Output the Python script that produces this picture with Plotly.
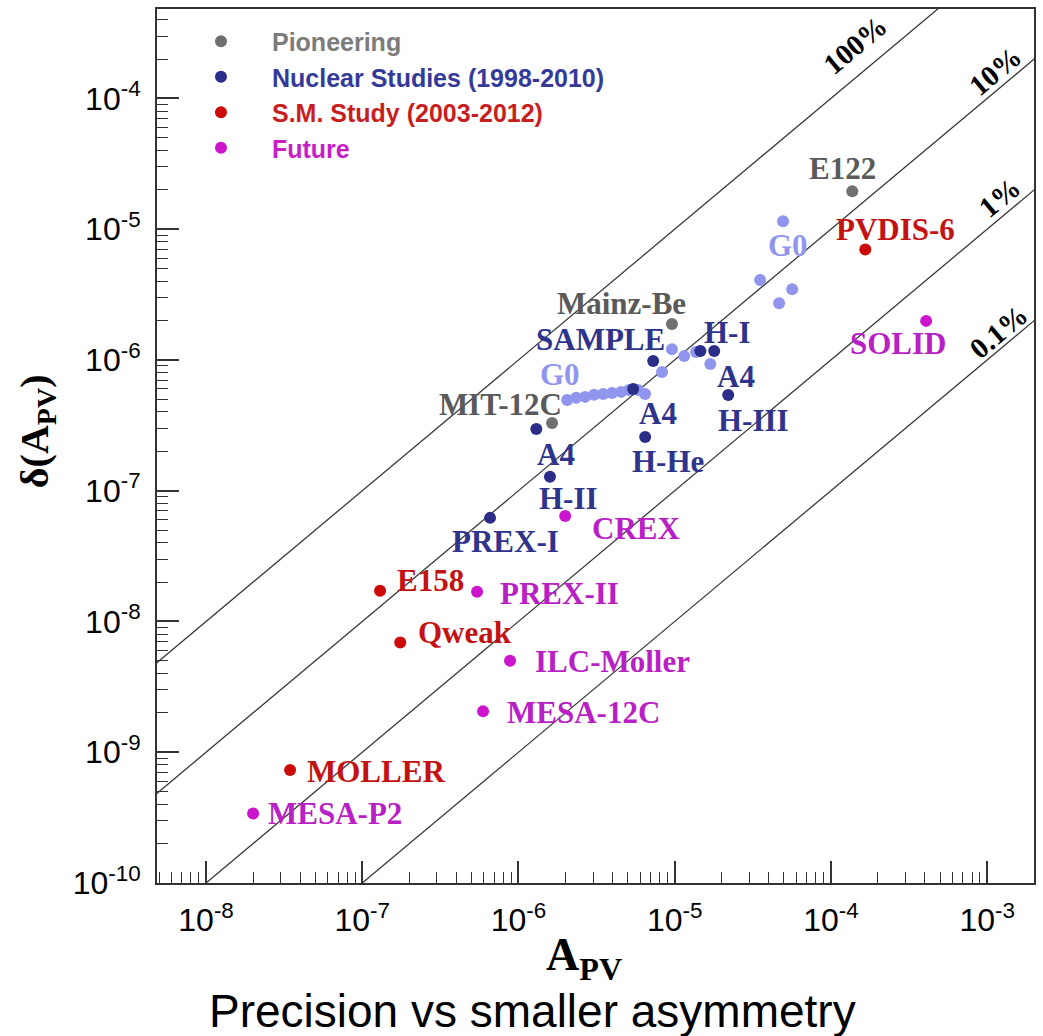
import numpy as np
import plotly.graph_objects as go

# ---- data: parity-violating asymmetry A_PV and its absolute uncertainty ----
# Pioneering measurements
pio_names = ["E122", "Mainz-Be", "MIT-12C"]
pio_apv = [1.37e-4, 9.6e-6, 1.64e-6]
pio_dapv = [1.95e-5, 1.88e-6, 3.3e-7]

# Nuclear studies (1998-2010)
nuc_names = ["SAMPLE", "H-I", "H-I", "", "A4 / H-II", "A4 / H-He", "A4 / H-III", "PREX-I", ""]
nuc_apv = [7.28e-6, 1.46e-5, 1.79e-5, 1.30e-6, 1.59e-6, 6.47e-6, 2.2e-5, 6.58e-7, 5.42e-6]
nuc_dapv = [9.8e-7, 1.17e-6, 1.17e-6, 2.97e-7, 1.28e-7, 2.58e-7, 5.4e-7, 6.2e-8, 6.0e-7]

# G0 forward / backward angle points (part of the nuclear studies)
g0_apv = [2.05e-6, 2.34e-6, 2.67e-6, 3.05e-6, 3.48e-6, 3.97e-6, 4.54e-6, 5.1e-6, 5.83e-6,
          6.46e-6, 8.3e-6, 9.6e-6, 1.15e-5, 1.37e-5, 1.69e-5,
          4.94e-5, 3.52e-5, 5.65e-5, 4.66e-5]
g0_dapv = [4.95e-7, 5.13e-7, 5.22e-7, 5.41e-7, 5.5e-7, 5.6e-7, 5.7e-7, 5.9e-7, 5.9e-7,
           5.5e-7, 8.1e-7, 1.21e-6, 1.07e-6, 1.15e-6, 9.3e-7,
           1.15e-5, 4.08e-6, 3.48e-6, 2.72e-6]

# Standard Model studies (2003-2012)
sm_names = ["E158", "Qweak", "MOLLER", "PVDIS-6"]
sm_apv = [1.30e-7, 1.75e-7, 3.45e-8, 1.66e-4]
sm_dapv = [1.72e-8, 6.9e-9, 7.3e-10, 7.0e-6]

# Future experiments
fut_names = ["CREX", "PREX-II", "ILC-Moller", "MESA-12C", "MESA-P2", "SOLID"]
fut_apv = [1.99e-6, 5.43e-7, 8.83e-7, 5.93e-7, 2.0e-8, 4.07e-4]
fut_dapv = [6.4e-8, 1.69e-8, 5.0e-9, 2.06e-9, 3.4e-10, 1.99e-6]

# relative precision guide lines: delta(A)/A
pct_ratio = [1.0, 0.1, 0.01, 0.001]
pct_text = ["100%", "10%", "1%", "0.1%"]

# decade tick exponents
x_tick_exp = [-8, -7, -6, -5, -4, -3]
y_tick_exp = [-10, -9, -8, -7, -6, -5, -4]

# ---- styling ----
C_PIO, C_PIO_T = "#707070", "#5a5a5a"
C_NUC, C_NUC_T = "#2b2e88", "#2e348c"
C_G0 = "#9096ee"
C_SM, C_SM_T = "#cc0a0a", "#c41212"
C_FUT, C_FUT_T = "#cc15cc", "#b81fc4"
SERIF = "Liberation Serif"
SANS = "Liberation Sans"
MSIZE = 12

fig = go.Figure()

# guide lines of constant relative precision
x_line = np.array([1e-10, 1e-1])
for r in pct_ratio:
    fig.add_trace(go.Scatter(x=x_line, y=r * x_line, mode="lines",
                             line=dict(color="#3a3a3a", width=1.3),
                             showlegend=False, hoverinfo="skip"))


def legend_name(text, color):
    return f"<b><span style='color:{color}'>{text}</span></b>"


fig.add_trace(go.Scatter(x=pio_apv, y=pio_dapv, mode="markers",
                         marker=dict(color=C_PIO, size=MSIZE),
                         name=legend_name("Pioneering", "#7c7c7c")))
fig.add_trace(go.Scatter(x=g0_apv, y=g0_dapv, mode="markers",
                         marker=dict(color=C_G0, size=MSIZE),
                         showlegend=False))
fig.add_trace(go.Scatter(x=nuc_apv, y=nuc_dapv, mode="markers",
                         marker=dict(color=C_NUC, size=MSIZE),
                         name=legend_name("Nuclear Studies (1998-2010)", "#343a98")))
fig.add_trace(go.Scatter(x=sm_apv, y=sm_dapv, mode="markers",
                         marker=dict(color=C_SM, size=MSIZE),
                         name=legend_name("S.M. Study (2003-2012)", "#c81e1e")))
fig.add_trace(go.Scatter(x=fut_apv, y=fut_dapv, mode="markers",
                         marker=dict(color=C_FUT, size=MSIZE),
                         name=legend_name("Future", "#c81ec8")))

# point labels: (text, A, dA, xanchor, xshift, yshift, colour)
labels = [
    ("E122", pio_apv[0], pio_dapv[0], "center", -10, 23, C_PIO_T),
    ("Mainz-Be", pio_apv[1], pio_dapv[1], "center", -50, 21, C_PIO_T),
    ("MIT-12C", pio_apv[2], pio_dapv[2], "center", -52, 18, C_PIO_T),
    ("SAMPLE", nuc_apv[0], nuc_dapv[0], "center", -53, 22, C_NUC_T),
    ("H-I", nuc_apv[1], nuc_dapv[1], "center", 27, 19, C_NUC_T),
    ("A4", nuc_apv[4], nuc_dapv[4], "center", 6, 22, C_NUC_T),
    ("H-II", nuc_apv[4], nuc_dapv[4], "center", 19, -22, C_NUC_T),
    ("A4", nuc_apv[5], nuc_dapv[5], "center", 13, 23, C_NUC_T),
    ("H-He", nuc_apv[5], nuc_dapv[5], "center", 23, -25, C_NUC_T),
    ("A4", nuc_apv[6], nuc_dapv[6], "center", 8, 18, C_NUC_T),
    ("H-III", nuc_apv[6], nuc_dapv[6], "center", 25, -26, C_NUC_T),
    ("PREX-I", nuc_apv[7], nuc_dapv[7], "center", 15, -24, C_NUC_T),
    ("G0", g0_apv[0], g0_dapv[0], "center", -7, 25, C_G0),
    ("G0", g0_apv[15], g0_dapv[15], "center", 5, -24, C_G0),
    ("E158", sm_apv[0], sm_dapv[0], "left", 15, 10, C_SM_T),
    ("Qweak", sm_apv[1], sm_dapv[1], "left", 16, 10, C_SM_T),
    ("MOLLER", sm_apv[2], sm_dapv[2], "left", 15, -1, C_SM_T),
    ("PVDIS-6", sm_apv[3], sm_dapv[3], "center", 30, 20, C_SM_T),
    ("CREX", fut_apv[0], fut_dapv[0], "left", 25, -12, C_FUT_T),
    ("PREX-II", fut_apv[1], fut_dapv[1], "left", 21, -2, C_FUT_T),
    ("ILC-Moller", fut_apv[2], fut_dapv[2], "left", 23, -1, C_FUT_T),
    ("MESA-12C", fut_apv[3], fut_dapv[3], "left", 22, -1, C_FUT_T),
    ("MESA-P2", fut_apv[4], fut_dapv[4], "left", 13, 0, C_FUT_T),
    ("SOLID", fut_apv[5], fut_dapv[5], "center", -28, -23, C_FUT_T),
]
for text, a, d, xa, dx, dy, col in labels:
    fig.add_annotation(x=np.log10(a), y=np.log10(d), text=f"<b>{text}</b>",
                       showarrow=False, xanchor=xa, yanchor="middle",
                       xshift=dx, yshift=dy,
                       font=dict(family=SERIF, size=31, color=col))

# precision line labels, rotated along the lines
pct_label_logx = [-3.845, -2.949, -2.917, -2.930]
pct_label_shift = [33, 21, 21, 19]
for r, t, lx, sh in zip(pct_ratio, pct_text, pct_label_logx, pct_label_shift):
    fig.add_annotation(x=lx, y=lx + np.log10(r), text=f"<b>{t}</b>",
                       showarrow=False, textangle=-40, yshift=sh,
                       font=dict(family=SERIF, size=29, color="black"))

# axis titles and caption
fig.add_annotation(xref="paper", yref="paper", x=0.487, y=0, yanchor="top",
                   yshift=-44, showarrow=False,
                   text="<b>A<sub>PV</sub></b>",
                   font=dict(family=SERIF, size=46, color="black"))
fig.add_annotation(xref="paper", yref="paper", x=0, y=0.517, xanchor="center",
                   xshift=-120, showarrow=False, textangle=-90,
                   text="<b>δ(A<sub>PV</sub>)</b>",
                   font=dict(family=SERIF, size=40, color="black"))
fig.add_annotation(xref="paper", yref="paper", x=0.428, y=0, yanchor="top",
                   yshift=-100, showarrow=False,
                   text="Precision vs smaller asymmetry",
                   font=dict(family=SANS, size=46, color="black"))


def power_labels(exps):
    return [f"10<sup>-{abs(e)}</sup>" for e in exps]


axis_common = dict(type="log", showgrid=False, zeroline=False,
                   showline=True, linecolor="#333333", linewidth=2, mirror=True,
                   ticks="inside", ticklen=22, tickwidth=1.5, tickcolor="#333333",
                   tickfont=dict(family=SANS, size=32, color="black"),
                   minor=dict(ticks="inside", ticklen=11, tickwidth=1.2,
                              tickcolor="#333333", dtick="D1", showgrid=False))

fig.update_xaxes(range=[-8.314, -2.70], ticklabelstandoff=8,
                 tickmode="array", tickvals=[10.0 ** e for e in x_tick_exp],
                 ticktext=power_labels(x_tick_exp), **axis_common)
fig.update_yaxes(range=[-10, -3.316], ticklabelstandoff=8,
                 tickmode="array", tickvals=[10.0 ** e for e in y_tick_exp],
                 ticktext=power_labels(y_tick_exp), **axis_common)

fig.update_layout(
    width=1043, height=1036,
    margin=dict(l=157, r=9, t=7, b=153),
    plot_bgcolor="white", paper_bgcolor="white",
    showlegend=True,
    legend=dict(x=0.0148, y=0.989, xanchor="left", yanchor="top",
                bgcolor="rgba(255,255,255,0)", borderwidth=0,
                font=dict(family=SANS, size=25), itemwidth=92,
                tracegroupgap=0),
)

fig.write_html("out.html")
